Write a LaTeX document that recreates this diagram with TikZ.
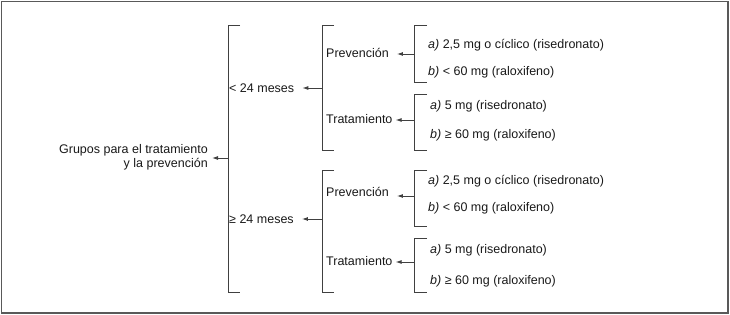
\documentclass[tikz,border=0pt]{standalone}
\usepackage{fontspec}
\setmainfont{Liberation Sans}
\usetikzlibrary{arrows.meta}
\begin{document}
\begin{tikzpicture}[x=1pt,y=-1pt,
  lbl/.style={inner sep=0pt,font=\fontsize{12.5}{14}\selectfont,text=black!90},
  conn/.style={draw=black!75,line width=0.9pt,-{Latex[length=6pt,width=4pt]}},
  brk/.style={draw=black!75,line width=0.9pt}]
\useasboundingbox (0,0) rectangle (730,315);
\draw[black!65,line width=1.6pt] (1.5,1.5) rectangle (728,313);
% level 0
\node[lbl,anchor=east,align=right] (root) at (208,157) {Grupos para el tratamiento\\y la prevención};
\coordinate (b0) at (228,158);
\draw[brk] (240,25) -- (228,25) -- (228,292) -- (240,292);
\draw[conn] (b0) -- ([xshift=4pt]root.east |- b0);
% level 1
\node[lbl,anchor=west] (lt) at (229,88) {< 24 meses};
\node[lbl,anchor=west] (ge) at (229,219) {≥ 24 meses};
\coordinate (b1) at (322,88);
\coordinate (b2) at (322,219);
\draw[brk] (334,25) -- (322,25) -- (322,150) -- (334,150);
\draw[brk] (334,170) -- (322,170) -- (322,292) -- (334,292);
\draw[conn] (b1) -- ([xshift=8pt]lt.east |- b1);
\draw[conn] (b2) -- ([xshift=8pt]ge.east |- b2);
% level 2
\node[lbl,anchor=west] (p1) at (326,53) {Prevención};
\node[lbl,anchor=west] (t1) at (326,119) {Tratamiento};
\node[lbl,anchor=west] (p2) at (326,192) {Prevención};
\node[lbl,anchor=west] (t2) at (326,261) {Tratamiento};
\coordinate (c1) at (414,54);
\coordinate (c2) at (414,120);
\coordinate (c3) at (414,196);
\coordinate (c4) at (414,262);
\draw[brk] (427,25) -- (414,25) -- (414,82) -- (427,82);
\draw[brk] (427,94) -- (414,94) -- (414,150) -- (427,150);
\draw[brk] (427,170) -- (414,170) -- (414,226) -- (427,226);
\draw[brk] (427,238) -- (414,238) -- (414,292) -- (427,292);
\draw[conn] (c1) -- ([xshift=8pt]p1.east |- c1);
\draw[conn] (c2) -- ([xshift=3pt]t1.east |- c2);
\draw[conn] (c3) -- ([xshift=8pt]p2.east |- c3);
\draw[conn] (c4) -- ([xshift=3pt]t2.east |- c4);
% leaves
\node[lbl,anchor=west] (i1) at (428,45) {\textit{a)} 2,5 mg o cíclico (risedronato)};
\node[lbl,anchor=west] (i2) at (428,72) {\textit{b)} < 60 mg (raloxifeno)};
\node[lbl,anchor=west] (i3) at (430,106) {\textit{a)} 5 mg (risedronato)};
\node[lbl,anchor=west] (i4) at (430,135) {\textit{b)} ≥ 60 mg (raloxifeno)};
\node[lbl,anchor=west] (i5) at (428,181) {\textit{a)} 2,5 mg o cíclico (risedronato)};
\node[lbl,anchor=west] (i6) at (428,208) {\textit{b)} < 60 mg (raloxifeno)};
\node[lbl,anchor=west] (i7) at (430,250) {\textit{a)} 5 mg (risedronato)};
\node[lbl,anchor=west] (i8) at (430,281) {\textit{b)} ≥ 60 mg (raloxifeno)};
\end{tikzpicture}
\end{document}
